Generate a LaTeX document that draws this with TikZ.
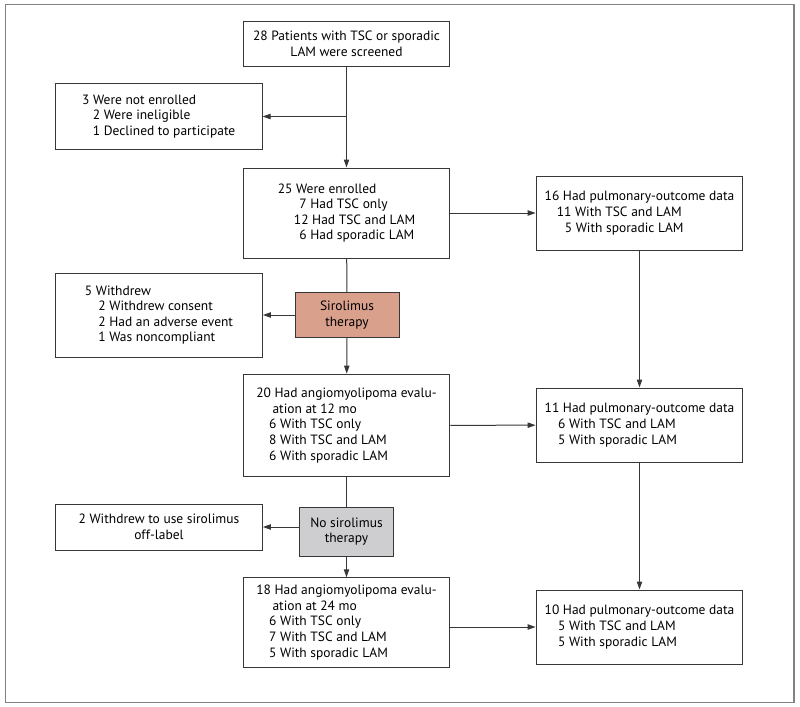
\documentclass[tikz,border=0pt]{standalone}
\usepackage{fontspec}
\setmainfont{PT Sans}
\usetikzlibrary{arrows.meta}
\definecolor{sirofill}{RGB}{217,160,140}
\definecolor{nosirofill}{RGB}{206,206,208}
\definecolor{boxline}{RGB}{55,55,55}
\definecolor{framegray}{RGB}{130,130,130}
\begin{document}
\begin{tikzpicture}[x=0.75pt,y=-0.75pt,
		box/.style={draw=boxline,line width=0.75pt,align=left,inner sep=0pt,
			font=\fontsize{10.1}{11.7}\selectfont},
		wide/.style={box,minimum width=155pt},
		pulm/.style={box,minimum width=155pt,minimum height=55.5pt},
		link/.style={draw=boxline,line width=0.75pt},
		arr/.style={link,-{Triangle[length=6pt,width=4pt]}}]
		\useasboundingbox (0,0) rectangle (800,707);
		\draw[framegray,line width=1.1pt] (5.5,4.5) rectangle (794,702.5);
		%
		\node[wide,minimum height=33.75pt,align=center] (screen) at (346.5,43.5)
			{28 Patients with TSC or sporadic\\LAM were screened};
		\node[wide,minimum height=50pt] (notenr) at (158.7,116.5)
			{3 Were not enrolled\\\hspace*{0.8em}2 Were ineligible\\\hspace*{0.8em}1 Declined to participate};
		\node[wide,minimum height=67.5pt] (enrol) at (346.5,213)
			{25 Were enrolled\\\hspace*{1.6em}7 Had TSC only\\\hspace*{1.2em}12 Had TSC and LAM\\\hspace*{1.6em}6 Had sporadic LAM};
		\node[pulm] (pulma) at (639.5,213)
			{16 Had pulmonary-outcome data\\\hspace*{0.9em}11 With TSC and LAM\\\hspace*{1.5em}5 With sporadic LAM};
		%
		\node[box,minimum width=78pt,minimum height=33.75pt,align=center,fill=sirofill] (siro) at (347,315)
			{Sirolimus\\therapy};
		\node[wide,minimum height=63pt] (withd) at (159,315)
			{5 Withdrew\\\hspace*{1em}2 Withdrew consent\\\hspace*{1em}2 Had an adverse event\\\hspace*{1em}1 Was noncompliant};
		%
		\node[wide,minimum height=77pt] (evala) at (346.5,425.5)
			{20 Had angiomyolipoma evalu-\\\hspace*{1.2em}ation at 12 mo\\\hspace*{0.95em}6 With TSC only\\\hspace*{0.95em}8 With TSC and LAM\\\hspace*{0.95em}6 With sporadic LAM};
		\node[pulm] (pulmb) at (639.5,425)
			{11 Had pulmonary-outcome data\\\hspace*{1em}6 With TSC and LAM\\\hspace*{1em}5 With sporadic LAM};
		%
		\node[box,minimum width=71pt,minimum height=36.75pt,align=center,fill=nosirofill] (nosiro) at (346.5,531.5)
			{No sirolimus\\therapy};
		\node[wide,minimum height=34.5pt,align=center] (withdb) at (159,527)
			{2 Withdrew to use sirolimus\\off-label};
		%
		\node[wide,minimum height=67pt] (evalb) at (346.5,622.5)
			{18 Had angiomyolipoma evalu-\\\hspace*{1.2em}ation at 24 mo\\\hspace*{0.95em}6 With TSC only\\\hspace*{0.95em}7 With TSC and LAM\\\hspace*{0.95em}5 With sporadic LAM};
		\node[pulm] (pulmc) at (639.5,627)
			{10 Had pulmonary-outcome data\\\hspace*{1em}5 With TSC and LAM\\\hspace*{1em}5 With sporadic LAM};
		%
		\draw[arr] (screen) -- (enrol);
		\draw[arr] (screen.south |- notenr.east) -- (notenr.east);
		\draw[link] (enrol) -- (siro);
		\draw[arr] (siro) -- (evala);
		\draw[arr] (siro) -- (withd);
		\draw[link] (evala) -- (nosiro);
		\draw[arr] (nosiro) -- (evalb);
		\draw[arr] (nosiro.west |- withdb.east) -- (withdb.east);
		%
		\draw[arr] (enrol) -- (pulma);
		\draw[arr] (evala) -- (pulmb);
		\draw[arr] (evalb.east |- pulmc.west) -- (pulmc.west);
		\draw[arr] (pulma) -- (pulmb);
		\draw[arr] (pulmb) -- (pulmc);
		%
\end{tikzpicture}
\end{document}
